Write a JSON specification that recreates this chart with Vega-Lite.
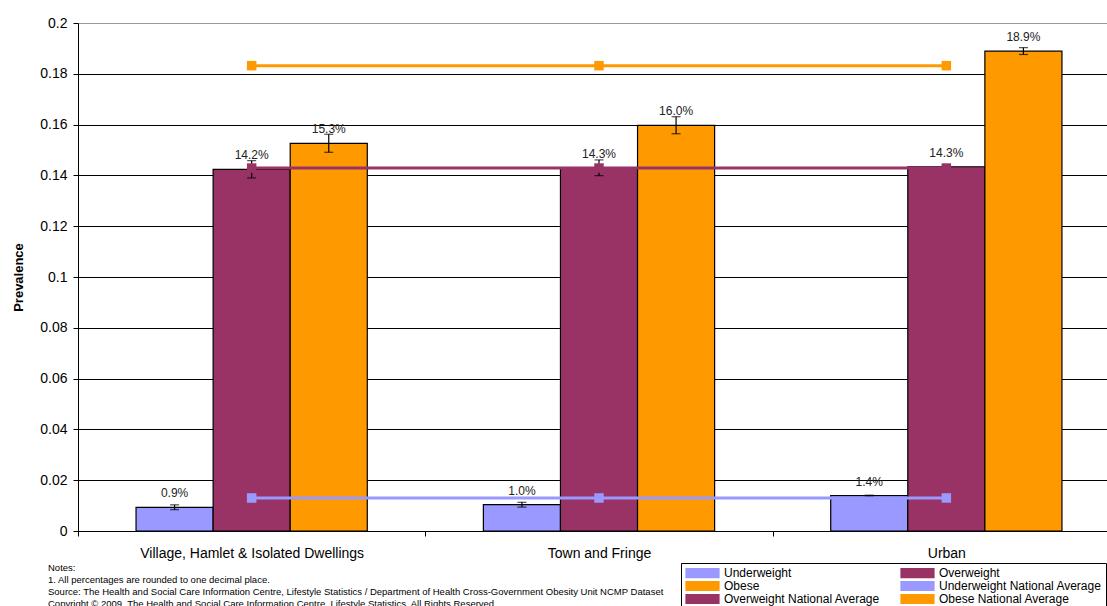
{
  "$schema": "https://vega.github.io/schema/vega-lite/v6.json",
  "width": 1029,
  "height": 508,
  "autosize": {"type": "none"},
  "padding": {"left": 78, "top": 23, "right": 0, "bottom": 75},
  "background": "white",
  "config": {"font": "Liberation Sans", "view": {"stroke": null}},
  "title": {
    "text": [
      "Notes:",
      "1. All percentages are rounded to one decimal place.",
      "Source: The Health and Social Care Information Centre, Lifestyle Statistics / Department of Health Cross-Government Obesity Unit NCMP Dataset",
      "Copyright © 2009, The Health and Social Care Information Centre, Lifestyle Statistics, All Rights Reserved."
    ],
    "orient": "bottom",
    "anchor": "start",
    "frame": "group",
    "dx": -30,
    "offset": -48,
    "fontSize": 9.5,
    "fontWeight": "normal",
    "color": "black",
    "lineHeight": 12.3,
    "baseline": "top"
  },
  "data": {
    "values": [
      {"area": "Village, Hamlet & Isolated Dwellings", "group": "Underweight", "value": 0.0093, "lo": 0.0084, "hi": 0.0103, "avg": 0.013, "avgSeries": "Underweight National Average"},
      {"area": "Village, Hamlet & Isolated Dwellings", "group": "Overweight", "value": 0.1424, "lo": 0.139, "hi": 0.1458, "avg": 0.1429, "avgSeries": "Overweight National Average"},
      {"area": "Village, Hamlet & Isolated Dwellings", "group": "Obese", "value": 0.1526, "lo": 0.1491, "hi": 0.1562, "avg": 0.1832, "avgSeries": "Obese National Average"},
      {"area": "Town and Fringe", "group": "Underweight", "value": 0.0104, "lo": 0.0094, "hi": 0.0113, "avg": 0.013, "avgSeries": "Underweight National Average"},
      {"area": "Town and Fringe", "group": "Overweight", "value": 0.143, "lo": 0.1399, "hi": 0.1461, "avg": 0.1429, "avgSeries": "Overweight National Average"},
      {"area": "Town and Fringe", "group": "Obese", "value": 0.1597, "lo": 0.1564, "hi": 0.1631, "avg": 0.1832, "avgSeries": "Obese National Average"},
      {"area": "Urban", "group": "Underweight", "value": 0.0139, "lo": 0.0137, "hi": 0.0141, "avg": 0.013, "avgSeries": "Underweight National Average"},
      {"area": "Urban", "group": "Overweight", "value": 0.1434, "lo": 0.143, "hi": 0.1438, "avg": 0.1429, "avgSeries": "Overweight National Average"},
      {"area": "Urban", "group": "Obese", "value": 0.1889, "lo": 0.1876, "hi": 0.1903, "avg": 0.1832, "avgSeries": "Obese National Average"}
    ]
  },
  "layer": [
    {
      "mark": {"type": "bar", "stroke": "black", "strokeWidth": 1.2},
      "encoding": {
        "x": {
          "field": "area", "type": "nominal", "sort": null,
          "scale": {"range": [0, 1042], "paddingInner": 0, "paddingOuter": 0},
          "axis": {"title": null, "labelAngle": 0, "labelFontSize": 14, "labelColor": "black", "labelLimit": 500, "tickBand": "extent", "tickColor": "black", "tickSize": 5, "domainColor": "black", "labelPadding": 10, "grid": false}
        },
        "xOffset": {"field": "group", "type": "nominal", "sort": ["Underweight", "Overweight", "Obese"], "scale": {"paddingInner": 0, "paddingOuter": 0.753}},
        "y": {
          "field": "value", "type": "quantitative",
          "scale": {"domain": [0, 0.2], "nice": false},
          "axis": {
            "title": "Prevalence", "titleFontSize": 13, "titleFontWeight": "bold", "titleColor": "black", "titlePadding": 14,
            "values": [0, 0.02, 0.04, 0.06, 0.08, 0.1, 0.12, 0.14, 0.16, 0.18, 0.2],
            "format": "~g", "labelFontSize": 14, "labelColor": "black", "labelPadding": 6,
            "tickColor": "black", "tickSize": 5, "domainColor": "black",
            "grid": true,
            "gridColor": {"condition": {"test": "datum.value >= 0.199", "value": "#999999"}, "value": "black"},
            "gridOpacity": 1
          }
        },
        "color": {
          "field": "group", "type": "nominal",
          "scale": {
            "domain": ["Underweight", "Overweight", "Obese", "Underweight National Average", "Overweight National Average", "Obese National Average"],
            "range": ["#9999FF", "#993366", "#FF9900", "#9999FF", "#993366", "#FF9900"]
          },
          "legend": {
            "title": null, "orient": "none", "legendX": 603, "legendY": 540, "direction": "horizontal", "columns": 2, "columnPadding": 18, "rowPadding": -3, "padding": 4,
            "strokeColor": "black", "fillColor": "white", "labelFontSize": 12, "labelColor": "black", "labelOffset": 27, "symbolSize": 100, "labelLimit": 300,
            "symbolType": "M-1,-0.9H5.6V0.9H-1Z", "symbolStrokeColor": "black", "symbolStrokeWidth": 1.2, "symbolOpacity": 1
          }
        }
      }
    },
    {
      "mark": {"type": "rule", "color": "black", "strokeWidth": 1.2},
      "encoding": {
        "x": {"field": "area", "type": "nominal", "sort": null},
        "xOffset": {"field": "group", "type": "nominal", "sort": ["Underweight", "Overweight", "Obese"]},
        "y": {"field": "lo", "type": "quantitative"},
        "y2": {"field": "hi"}
      }
    },
    {
      "mark": {"type": "tick", "color": "black", "size": 9, "thickness": 1.2, "orient": "horizontal"},
      "encoding": {
        "x": {"field": "area", "type": "nominal", "sort": null},
        "xOffset": {"field": "group", "type": "nominal", "sort": ["Underweight", "Overweight", "Obese"]},
        "y": {"field": "lo", "type": "quantitative"}
      }
    },
    {
      "mark": {"type": "tick", "color": "black", "size": 9, "thickness": 1.2, "orient": "horizontal"},
      "encoding": {
        "x": {"field": "area", "type": "nominal", "sort": null},
        "xOffset": {"field": "group", "type": "nominal", "sort": ["Underweight", "Overweight", "Obese"]},
        "y": {"field": "hi", "type": "quantitative"}
      }
    },
    {
      "mark": {"type": "text", "dy": -10, "baseline": "alphabetic", "fontSize": 12, "color": "#222222"},
      "encoding": {
        "x": {"field": "area", "type": "nominal", "sort": null},
        "xOffset": {"field": "group", "type": "nominal", "sort": ["Underweight", "Overweight", "Obese"]},
        "y": {"field": "value", "type": "quantitative"},
        "text": {"field": "value", "type": "quantitative", "format": ".1%"}
      }
    },
    {
      "mark": {"type": "line", "strokeWidth": 3, "point": {"shape": "square", "size": 90, "filled": true, "opacity": 1}},
      "encoding": {
        "x": {"field": "area", "type": "nominal", "sort": null},
        "y": {"field": "avg", "type": "quantitative"},
        "color": {
          "field": "avgSeries", "type": "nominal",
          "scale": {
            "domain": ["Underweight", "Overweight", "Obese", "Underweight National Average", "Overweight National Average", "Obese National Average"],
            "range": ["#9999FF", "#993366", "#FF9900", "#9999FF", "#993366", "#FF9900"]
          }
        }
      }
    }
  ]
}
